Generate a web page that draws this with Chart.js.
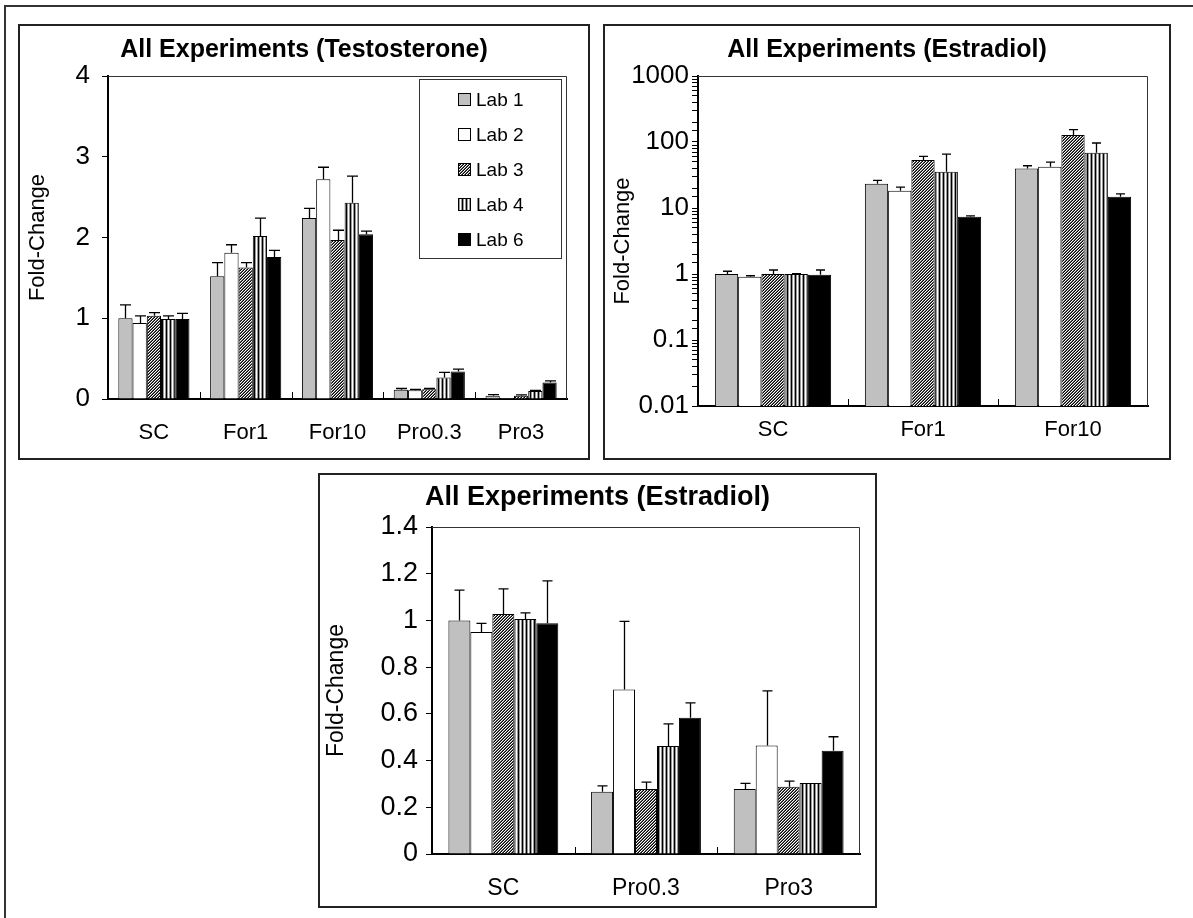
<!DOCTYPE html>
<html>
<head>
<meta charset="utf-8">
<title>All Experiments</title>
<script src="https://cdn.jsdelivr.net/npm/chart.js@4.4.1/dist/chart.umd.min.js"></script>
<style>
  html, body { margin: 0; padding: 0; background: #fff; }
  body { width: 1193px; height: 918px; position: relative; overflow: hidden; }
  .line { position: absolute; background: #333; }
  .panel { position: absolute; border: 2px solid #222; box-sizing: border-box; }
  .holder { position: absolute; }
</style>
</head>
<body>
<div class="line" style="left:4px;top:5px;width:1189px;height:2px"></div>
<div class="line" style="left:4px;top:5px;width:2px;height:913px"></div>

<div class="panel" style="left:18px;top:24px;width:572px;height:436px"></div>
<div class="holder" style="left:18px;top:24px;width:572px;height:436px"><canvas id="testoChart"></canvas></div>

<div class="panel" style="left:603px;top:24px;width:568px;height:436px"></div>
<div class="holder" style="left:603px;top:24px;width:568px;height:436px"><canvas id="estraLogChart"></canvas></div>

<div class="panel" style="left:318px;top:473px;width:559px;height:435px"></div>
<div class="holder" style="left:318px;top:473px;width:559px;height:435px"><canvas id="estraProChart"></canvas></div>

<script>
const labNames = ['Lab 1', 'Lab 2', 'Lab 3', 'Lab 4', 'Lab 6'];

// Testosterone (linear axis) - one row per lab, upper error bar size in *Err
const testoCategories = ['SC', 'For1', 'For10', 'Pro0.3', 'Pro3'];
const testoMeans = [
  [1.00, 1.52, 2.24, 0.115, 0.04],
  [0.94, 1.81, 2.72, 0.107, 0.012],
  [1.03, 1.63, 1.97, 0.12, 0.04],
  [0.99, 2.02, 2.43, 0.265, 0.10],
  [0.99, 1.76, 2.04, 0.34, 0.205]
];
const testoErr = [
  [0.165, 0.17, 0.12, 0.015, 0.015],
  [0.09, 0.10, 0.15, 0.013, 0],
  [0.04, 0.06, 0.12, 0.01, 0.01],
  [0.04, 0.22, 0.33, 0.065, 0.005],
  [0.07, 0.08, 0.04, 0.03, 0.02]
];

// Estradiol, forskolin (log axis)
const forCategories = ['SC', 'For1', 'For10'];
const forMeans = [
  [1.0, 23.3, 39.8],
  [0.91, 18.2, 42.2],
  [1.0, 53.3, 127.7],
  [1.0, 35.4, 68.9],
  [0.97, 7.35, 14.8]
];
const forErr = [
  [0.1, 2.9, 3.9],
  [0.03, 2.5, 7.5],
  [0.15, 7.3, 26],
  [0.01, 30.3, 27.7],
  [0.18, 0.25, 1.6]
];

// Estradiol, prochloraz (linear axis)
const proCategories = ['SC', 'Pro0.3', 'Pro3'];
const proMeans = [
  [1.0, 0.267, 0.278],
  [0.95, 0.704, 0.465],
  [1.028, 0.278, 0.288],
  [1.006, 0.462, 0.304],
  [0.988, 0.583, 0.442]
];
const proErr = [
  [0.13, 0.025, 0.024],
  [0.037, 0.292, 0.233],
  [0.107, 0.03, 0.024],
  [0.026, 0.095, 0],
  [0.181, 0.064, 0.06]
];

Chart.defaults.font.family = '"Liberation Sans", Arial, sans-serif';
Chart.defaults.color = '#000';

function labFills(ctx) {
  // Lab 3: dense diagonal hatch
  const h = document.createElement('canvas');
  h.width = 3; h.height = 3;
  const hg = h.getContext('2d');
  const shades = ['#000', '#fff', '#666'];
  for (let px = 0; px < 3; px++) {
    for (let py = 0; py < 3; py++) {
      hg.fillStyle = shades[(px + py) % 3];
      hg.fillRect(px, py, 1, 1);
    }
  }
  // Lab 4: vertical stripes
  const v = document.createElement('canvas');
  v.width = 4; v.height = 4;
  const vg = v.getContext('2d');
  vg.fillStyle = '#000'; vg.fillRect(0, 0, 1, 4);
  vg.fillStyle = '#999'; vg.fillRect(1, 0, 1, 4);
  vg.fillStyle = '#fff'; vg.fillRect(2, 0, 1, 4);
  vg.fillStyle = '#999'; vg.fillRect(3, 0, 1, 4);
  return ['#c0c0c0', '#ffffff', ctx.createPattern(h, 'repeat'), ctx.createPattern(v, 'repeat'), '#000000'];
}

const errorBars = {
  id: 'errorBars',
  afterDatasetsDraw(chart, args, opts) {
    const ctx = chart.ctx;
    const y = chart.scales.y;
    ctx.save();
    ctx.strokeStyle = '#000';
    ctx.lineWidth = 1.3;
    chart.data.datasets.forEach((ds, i) => {
      chart.getDatasetMeta(i).data.forEach((bar, j) => {
        const e = ds.errors[j];
        if (!e) return;
        const top = y.getPixelForValue(ds.data[j] + e);
        const x = Math.round(bar.x) + 0.5;
        ctx.beginPath();
        ctx.moveTo(x, bar.y);
        ctx.lineTo(x, top);
        ctx.moveTo(x - opts.cap, top);
        ctx.lineTo(x + opts.cap, top);
        ctx.stroke();
      });
    });
    ctx.restore();
  }
};

const plotFrame = {
  id: 'plotFrame',
  afterDraw(chart) {
    const {ctx, chartArea: a, scales: {x}} = chart;
    ctx.save();
    ctx.strokeStyle = '#333';
    ctx.lineWidth = 1;
    ctx.beginPath();
    ctx.moveTo(a.left, Math.round(a.top) + 0.5);
    ctx.lineTo(Math.round(a.right) - 0.5, Math.round(a.top) + 0.5);
    ctx.lineTo(Math.round(a.right) - 0.5, a.bottom);
    ctx.stroke();
    // small ticks between categories
    ctx.strokeStyle = '#000';
    ctx.beginPath();
    for (let i = 1; i < chart.data.labels.length; i++) {
      const bx = Math.round((x.getPixelForValue(i - 1) + x.getPixelForValue(i)) / 2) + 0.5;
      ctx.moveTo(bx, a.bottom);
      ctx.lineTo(bx, a.bottom - 7);
    }
    ctx.stroke();
    ctx.restore();
  }
};

const boxLegend = {
  id: 'boxLegend',
  afterDraw(chart, args, opts) {
    if (!opts.show) return;
    const {ctx, chartArea: a} = chart;
    const w = 142, h = 179;
    const left = Math.round(a.right - 6 - w), top = Math.round(a.top + 3);
    ctx.save();
    ctx.fillStyle = '#fff';
    ctx.fillRect(left, top, w, h);
    ctx.strokeStyle = '#333';
    ctx.lineWidth = 1;
    ctx.strokeRect(left + 0.5, top + 0.5, w, h);
    ctx.font = '19px "Liberation Sans", Arial, sans-serif';
    ctx.textBaseline = 'middle';
    chart.data.datasets.forEach((ds, i) => {
      const cy = top + 21 + i * 35;
      ctx.fillStyle = ds.backgroundColor;
      ctx.fillRect(left + 39, cy - 7, 13, 13);
      ctx.strokeStyle = '#000';
      ctx.strokeRect(left + 39.5, cy - 6.5, 12, 12);
      ctx.fillStyle = '#000';
      ctx.fillText(ds.label, left + 57, cy + 1);
    });
    ctx.restore();
  }
};

function buildChart(id, o) {
  const ctx = document.getElementById(id).getContext('2d');
  const fills = labFills(ctx);
  return new Chart(ctx, {
    type: 'bar',
    data: {
      labels: o.categories,
      datasets: labNames.map((name, i) => ({
        label: name,
        data: o.means[i],
        errors: o.errors[i],
        backgroundColor: fills[i],
        borderColor: '#000',
        borderWidth: 1,
        categoryPercentage: o.groupWidth,
        barPercentage: 1
      }))
    },
    options: {
      responsive: true,
      maintainAspectRatio: false,
      animation: false,
      layout: { padding: 0 },
      plugins: {
        legend: { display: false },
        tooltip: { enabled: false },
        title: {
          display: true,
          text: o.title,
          color: '#000',
          font: { size: o.titleSize, weight: 'bold' },
          padding: o.titlePad
        },
        errorBars: { cap: o.cap },
        boxLegend: { show: !!o.legend }
      },
      scales: {
        x: {
          grid: { display: false, drawTicks: false },
          border: { color: '#000', width: 2 },
          ticks: { font: { size: o.catSize }, padding: o.catPad, color: '#000' },
          afterFit: s => { s.height = o.xHeight; }
        },
        y: {
          type: o.logY ? 'logarithmic' : 'linear',
          min: o.yMin,
          max: o.yMax,
          grid: { drawOnChartArea: false, drawTicks: true, tickLength: 6, color: '#000' },
          border: { color: '#000', width: 2 },
          ticks: {
            stepSize: o.yStep,
            autoSkip: false,
            font: { size: o.tickSize },
            padding: o.tickPad,
            color: '#000',
            callback: o.logY
              ? v => (Math.abs(Math.log10(v) - Math.round(Math.log10(v))) < 1e-9 ? String(v) : '')
              : v => String(Number(v.toFixed(2)))
          },
          title: {
            display: true,
            text: 'Fold-Change',
            color: '#000',
            font: { size: o.yTitleSize },
            padding: { top: o.yTitlePad, bottom: 0 }
          },
          afterFit: s => { s.width = o.yWidth; }
        },
        spacer: {
          position: 'right',
          display: true,
          grid: { display: false, drawTicks: false },
          border: { display: false },
          ticks: { display: false },
          afterFit: s => { s.width = o.rightGap; }
        }
      }
    },
    plugins: [errorBars, plotFrame, boxLegend]
  });
}

buildChart('testoChart', {
  title: 'All Experiments (Testosterone)',
  categories: testoCategories, means: testoMeans, errors: testoErr,
  yMin: 0, yMax: 4, yStep: 1, logY: false,
  groupWidth: 0.775, cap: 5.5, legend: true,
  titleSize: 25, titlePad: { top: 11, bottom: 11 },
  yWidth: 90, rightGap: 23, xHeight: 61,
  tickSize: 26, tickPad: 12, catSize: 22, catPad: 21,
  yTitleSize: 22, yTitlePad: 7
});

buildChart('estraLogChart', {
  title: 'All Experiments (Estradiol)',
  categories: forCategories, means: forMeans, errors: forErr,
  yMin: 0.01, yMax: 1000, logY: true,
  groupWidth: 0.775, cap: 4.5, legend: false,
  titleSize: 25, titlePad: { top: 11, bottom: 11 },
  yWidth: 95, rightGap: 23, xHeight: 54,
  tickSize: 26, tickPad: 3, catSize: 22, catPad: 11,
  yTitleSize: 22, yTitlePad: 7
});

buildChart('estraProChart', {
  title: 'All Experiments (Estradiol)',
  categories: proCategories, means: proMeans, errors: proErr,
  yMin: 0, yMax: 1.4, yStep: 0.2, logY: false,
  groupWidth: 0.77, cap: 5, legend: false,
  titleSize: 27, titlePad: { top: 8, bottom: 13.6 },
  yWidth: 114, rightGap: 17, xHeight: 54,
  tickSize: 27, tickPad: 8, catSize: 23, catPad: 21,
  yTitleSize: 23, yTitlePad: 5
});
</script>
</body>
</html>
